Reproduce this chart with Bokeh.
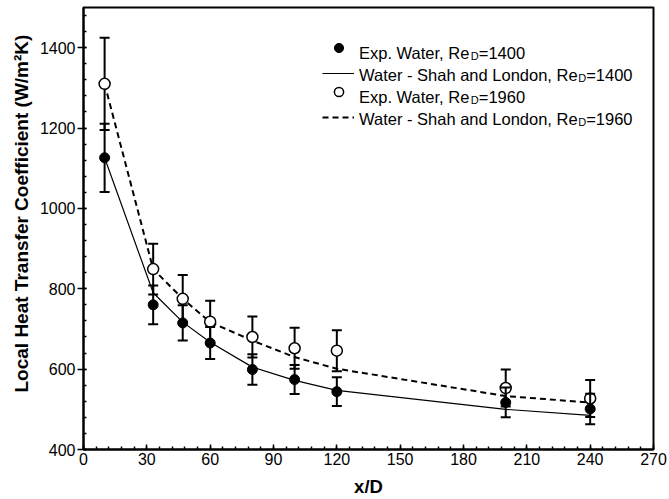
import math
from bokeh.plotting import figure
from bokeh.models import Range1d, SingleIntervalTicker, Legend, LegendItem, Label, ColumnDataSource, Title
from bokeh.embed import file_html
from bokeh.resources import INLINE

# ---------------- data ----------------
x_d = [10, 33, 47, 60, 80, 100, 120, 200, 240]

h_exp_1400 = [1126, 760, 715, 665, 599, 574, 544, 517, 501]
err_exp_1400 = [85, 48, 44, 40, 38, 36, 36, 37, 38]

h_exp_1960 = [1310, 849, 775, 718, 680, 652, 646, 553, 527]
err_exp_1960 = [115, 63, 59, 52, 51, 51, 51, 46, 46]

h_shah_1400 = [1126, 790, 717, 667, 605, 572, 547, 500, 485]
h_shah_1960 = [1310, 849, 775, 717, 671, 630, 601, 533, 517]

x_ticks_interval = 30
y_ticks_interval = 200

legend_rows = [
    ("Exp. Water, Re", "D", "=1400"),
    ("Water - Shah and London, Re", "D", "=1400"),
    ("Exp. Water, Re", "D", "=1960"),
    ("Water - Shah and London, Re", "D", "=1960"),
]

FONT = "Liberation Sans"

# ---------------- figure ----------------
p = figure(width=669, height=499, output_backend="svg", toolbar_location=None,
           x_range=Range1d(0, 270), y_range=Range1d(400, 1500),
           min_border_left=83, min_border_right=16, min_border_top=7, min_border_bottom=48)
p.xgrid.visible = False
p.ygrid.visible = False
p.outline_line_color = "black"
p.outline_line_width = 2
p.background_fill_color = "white"
p.border_fill_color = "white"

for ax in (p.xaxis[0], p.yaxis[0]):
    ax.axis_line_color = "black"
    ax.axis_line_width = 2
    ax.major_tick_line_color = "black"
    ax.major_tick_line_width = 1.5
    ax.minor_tick_line_color = "black"
    ax.minor_tick_line_width = 1.5
    ax.major_label_text_font = FONT
    ax.major_label_text_font_size = "16px"
    ax.major_label_text_color = "black"
    ax.minor_tick_out = 0
    ax.minor_tick_in = 3

xa = p.xaxis[0]
xa.ticker = SingleIntervalTicker(interval=x_ticks_interval, num_minor_ticks=5)
xa.major_tick_in = 5
xa.major_tick_out = 0
xa.major_label_standoff = 3
xa.axis_label = "x/D"
xa.axis_label_text_font = FONT
xa.axis_label_text_font_style = "bold"
xa.axis_label_text_font_size = "18.5px"
xa.axis_label_text_color = "black"
xa.axis_label_standoff = 8

ya = p.yaxis[0]
ya.ticker = SingleIntervalTicker(interval=y_ticks_interval, num_minor_ticks=5)
ya.major_tick_in = 3
ya.major_tick_out = 6
ya.major_label_standoff = 2

# y-axis title as a side title so that it can be offset like the reference
ytitle = Title(text="Local Heat Transfer Coefficient (W/m\u00b2K)", align="left", offset=57,
               text_font=FONT, text_font_size="19px", text_font_style="bold",
               text_color="black", standoff=10)
p.add_layout(ytitle, "left")

# ---------------- data marks ----------------
src1400 = ColumnDataSource(dict(x=x_d, y=h_exp_1400,
                                lo=[v - e for v, e in zip(h_exp_1400, err_exp_1400)],
                                hi=[v + e for v, e in zip(h_exp_1400, err_exp_1400)]))
src1960 = ColumnDataSource(dict(x=x_d, y=h_exp_1960,
                                lo=[v - e for v, e in zip(h_exp_1960, err_exp_1960)],
                                hi=[v + e for v, e in zip(h_exp_1960, err_exp_1960)]))

line1400 = p.line(x_d, h_shah_1400, line_color="black", line_width=1.2)
line1960 = p.line(x_d, h_shah_1960, line_color="black", line_width=2, line_dash="6 4")

# open series error bars + markers
p.segment(x0="x", y0="lo", x1="x", y1="hi", source=src1960, line_color="black", line_width=2)
p.scatter(x="x", y="hi", source=src1960, marker="dash", size=10, line_color="black", line_width=2)
p.scatter(x="x", y="lo", source=src1960, marker="dash", size=10, line_color="black", line_width=2)
open_pts = p.scatter(x="x", y="y", source=src1960, marker="circle", size=11,
                     fill_color="white", line_color="black", line_width=1.5)

# filled series error bars + markers
p.segment(x0="x", y0="lo", x1="x", y1="hi", source=src1400, line_color="black", line_width=2)
p.scatter(x="x", y="hi", source=src1400, marker="dash", size=10, line_color="black", line_width=2)
p.scatter(x="x", y="lo", source=src1400, marker="dash", size=10, line_color="black", line_width=2)
filled_pts = p.scatter(x="x", y="y", source=src1400, marker="circle", size=10,
                       fill_color="black", line_color="black", line_width=1)

# ---------------- legend (symbols via Legend, texts via Labels) ----------------
def glyph_legend(renderer, x, y, w, h):
    lg = Legend(items=[LegendItem(label=" ", renderers=[renderer])], location=(x, y),
                glyph_width=w, glyph_height=h, label_width=0, label_height=h,
                label_standoff=0, padding=0, margin=0, spacing=0,
                border_line_alpha=0, background_fill_alpha=0,
                label_text_font_size="1px")
    p.add_layout(lg, "center")

FB = 451.5  # page y of frame bottom, used to convert legend positions
glyph_legend(filled_pts, 243.8, FB - 61.5, 23, 23)
glyph_legend(line1400, 239, FB - 80, 32, 10)
glyph_legend(open_pts, 243.8, FB - 105.5, 23, 23)
glyph_legend(line1960, 239, FB - 124.3, 32, 10)

ARIAL_W = {' ': 278, '(': 333, ')': 333, ',': 278, '-': 333, '.': 278, '/': 278, '=': 584,
           'D': 722, 'E': 667, 'L': 556, 'R': 722, 'S': 667, 'W': 944,
           'a': 556, 'd': 556, 'e': 556, 'h': 556, 'l': 222, 'n': 556, 'o': 556,
           'p': 556, 'r': 333, 't': 278, 'x': 500}
for ch in "0123456789":
    ARIAL_W[ch] = 556

def text_w(s, size):
    return sum(ARIAL_W.get(c, 556) for c in s) / 1000.0 * size

LEG_SIZE = 16.5
SUB_SIZE = 11.0
text_x0 = 275.5
baselines = [FB - 55, FB - 77.3, FB - 99.3, FB - 121]
for (main, sub, tail), by in zip(legend_rows, baselines):
    p.add_layout(Label(x=text_x0, y=by, x_units="screen", y_units="screen", text=main,
                       text_font=FONT, text_font_size=f"{LEG_SIZE}px", text_color="black",
                       text_align="left", text_baseline="alphabetic"))
    sx = text_x0 + text_w(main, LEG_SIZE)
    p.add_layout(Label(x=sx, y=by - 2.5, x_units="screen", y_units="screen", text=sub,
                       text_font=FONT, text_font_size=f"{SUB_SIZE}px", text_color="black",
                       text_align="left", text_baseline="alphabetic"))
    tx = sx + text_w(sub, SUB_SIZE)
    p.add_layout(Label(x=tx, y=by, x_units="screen", y_units="screen", text=tail,
                       text_font=FONT, text_font_size=f"{LEG_SIZE}px", text_color="black",
                       text_align="left", text_baseline="alphabetic"))

open("out.html", "w").write(file_html(p, INLINE))
